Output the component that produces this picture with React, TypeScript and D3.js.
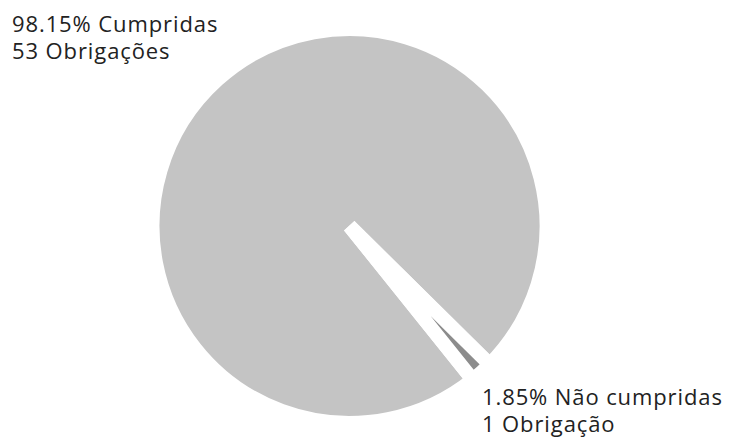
import React from "react";
import * as d3 from "d3";

const categories = ["Cumpridas", "Não cumpridas"];
const values = [53, 1];
const labelLine1 = ["98.15% Cumpridas", "1.85% Não cumpridas"];
const labelLine2 = ["53 Obrigações", "1 Obrigação"];
const colors = ["#c4c4c4", "#8c8c8c"];

const W = 729;
const H = 439;

export default function App() {
  const cx = 349.5;
  const cy = 226;
  const border = 14;
  const r = 190 + border / 2;
  const start = (141.3 * Math.PI) / 180;
  const pie = d3
    .pie<number>()
    .sort(null)
    .startAngle(start)
    .endAngle(start + 2 * Math.PI)
    .value((d) => d);
  const arcs = pie(values);
  const arc = d3
    .arc<d3.PieArcDatum<number>>()
    .innerRadius(0)
    .outerRadius(r);

  const labelPos = [
    { x: 12, y: 32 },
    { x: 482, y: 405 },
  ];

  return (
    <svg
      width={W}
      height={H}
      style={{ position: "absolute", left: 0, top: 0, background: "#fff" }}
    >
      <g transform={`translate(${cx},${cy})`}>
        {arcs.map((a, i) => (
          <path
            key={categories[i]}
            d={arc(a) || ""}
            fill={colors[i]}
            stroke="#ffffff"
            strokeWidth={border}
            strokeLinejoin="miter"
          />
        ))}
      </g>
      {labelPos.map((p, i) => (
        <text
          key={i}
          x={p.x}
          y={p.y}
          fill="#222"
          fontFamily="'Open Sans', sans-serif"
          fontSize={22}
          letterSpacing={0.9}
        >
          <tspan x={p.x} y={p.y}>{labelLine1[i]}</tspan>
          <tspan x={p.x} y={p.y + 26.5}>{labelLine2[i]}</tspan>
        </text>
      ))}
    </svg>
  );
}
